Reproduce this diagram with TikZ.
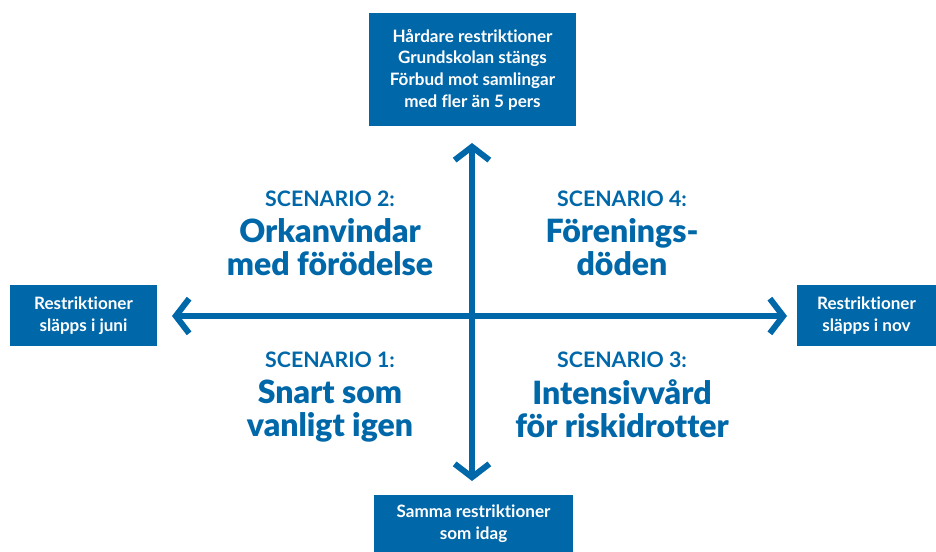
\documentclass[tikz,border=0pt]{standalone}
\usepackage{fontspec}
\setmainfont{Lato}[Ligatures=NoCommon]
\newfontfamily\heavyfont{Lato Black}[Ligatures=NoCommon]
\usetikzlibrary{arrows.meta}
\definecolor{sblue}{RGB}{0,103,169}
\tikzset{every picture/.style={line width=0.75pt}}
\tikzset{
  infobox/.style={fill=sblue, text=white, inner sep=0pt, align=center, font=\fontsize{12.8}{16.3}\selectfont\bfseries},
  scenhead/.style={text=sblue, inner sep=0pt, align=center, font=\fontsize{16}{17}\selectfont\bfseries},
  scentitle/.style={text=sblue, inner sep=0pt, align=center, font=\fontsize{24}{24.8}\selectfont\heavyfont},
  axis/.style={draw=sblue, line width=4.5pt, -{Straight Barb[length=10pt, width=26pt, line width=4.5pt]}}
}
\begin{document}
\begin{tikzpicture}[x=0.75pt,y=0.75pt,yscale=-1,xscale=1]
  \useasboundingbox (0,0) rectangle (936,552);

  % Boxes
  \node [infobox, minimum width=155.25pt, minimum height=84.75pt] (top) at (472.5,69.5) {Hårdare restriktioner\\Grundskolan stängs\\Förbud mot samlingar\\med fler än 5 pers};
  \node [infobox, minimum width=110.25pt, minimum height=45.75pt] (left) at (83.5,315.5) {Restriktioner\\släpps i juni};
  \node [infobox, minimum width=104.25pt, minimum height=45.75pt] (right) at (866.5,315.5) {Restriktioner\\släpps i nov};
  \node [infobox, minimum width=149.25pt, minimum height=42.75pt] (bottom) at (473.5,523.5) {Samma restriktioner\\som idag};

  % Axes
  \coordinate (mid) at (472,316);
  \coordinate (n) at (472,143);
  \coordinate (s) at (472,481);
  \coordinate (w) at (172,316);
  \coordinate (e) at (787,316);
  \draw [axis] (mid) -- (n);
  \draw [axis] (mid) -- (s);
  \draw [axis] (mid) -- (w);
  \draw [axis] (mid) -- (e);

  % Scenarios
  \node [scenhead] (h2) at (330,199) {SCENARIO 2:};
  \node [scentitle, anchor=north] (t2) at (330,218) {Orkanvindar\\med förödelse};
  \node [scenhead] (h4) at (622,199) {SCENARIO 4:};
  \node [scentitle, anchor=north] (t4) at (622,218) {Förenings-\\döden};
  \node [scenhead] (h1) at (330,360) {SCENARIO 1:};
  \node [scentitle, anchor=north] (t1) at (330,379) {Snart som\\vanligt igen};
  \node [scenhead] (h3) at (622,360) {SCENARIO 3:};
  \node [scentitle, anchor=north] (t3) at (622,379) {Intensivvård\\för riskidrotter};
\end{tikzpicture}
\end{document}
